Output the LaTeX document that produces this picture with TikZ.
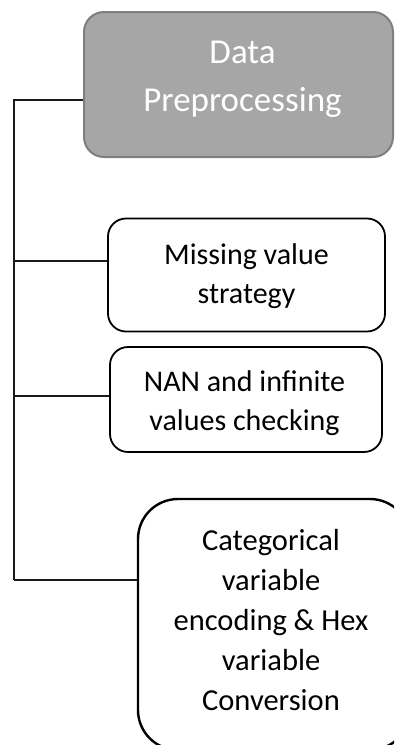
\documentclass[tikz,border=0pt]{standalone}
\usepackage{fontspec}
\setmainfont{Carlito}
\definecolor{headfill}{HTML}{A6A6A6}
\definecolor{headline}{HTML}{7F7F7F}
\definecolor{wire}{HTML}{1A1A1A}
\tikzset{
  headbox/.style={draw=headline, fill=headfill, line width=2pt, rounded corners=20pt,
    minimum width=309pt, minimum height=145pt},
  % text nodes are placed by the baseline of their last line
  headtext/.style={text=white, align=center, inner sep=0pt, anchor=base,
    font=\fontsize{35}{48}\selectfont},
  stepbox/.style={draw=black, line width=1.8pt, rounded corners=18pt},
  steptext/.style={align=center, inner sep=0pt, anchor=base,
    font=\fontsize{30}{39}\selectfont},
  bigbox/.style={draw=black, line width=2.4pt, rounded corners=40pt,
    minimum width=272pt, minimum height=251pt},
  bigtext/.style={align=center, inner sep=0pt, anchor=base,
    font=\fontsize{30.5}{40}\selectfont},
  wireline/.style={draw=wire, line width=1.3pt},
}
\begin{document}
\begin{tikzpicture}[x=1pt, y=-1pt]
\useasboundingbox (0,0) rectangle (394,745);
\clip (0,0) rectangle (394,745);

% header box
\node[headbox] (dp) at (238.5,84.5) {};
\node[headtext] (dpt) at (242.5,111) {Data\\Preprocessing};

% the three steps
\node[stepbox, minimum width=277pt, minimum height=113pt] (mv) at (246.5,275) {};
\node[steptext] (mvt) at (246.5,303) {Missing value\\strategy};
\node[stepbox, minimum width=272pt, minimum height=105pt] (nan) at (246,399.5) {};
\node[steptext] (nant) at (244.5,430) {NAN and infinite\\values checking};
\node[bigbox] (cat) at (274,624.5) {};
\node[bigtext] (catt) at (271,710) {Categorical\\variable\\encoding \& Hex\\variable\\Conversion};

% trunk and branches
\coordinate (t0) at (14,100);
\coordinate (t1) at (14,261);
\coordinate (t2) at (14,396);
\coordinate (t3) at (14,580);
\draw[wireline] (t0 -| dp.west) -- (t0) -- (t3);
\draw[wireline] (t1) -- (t1 -| mv.west);
\draw[wireline] (t2) -- (t2 -| nan.west);
\draw[wireline] (t3) -- (t3 -| cat.west);
\end{tikzpicture}
\end{document}
